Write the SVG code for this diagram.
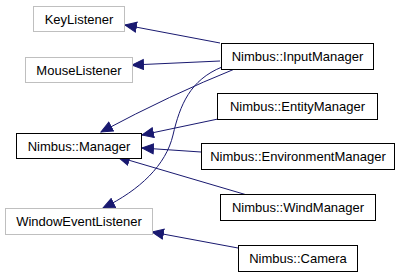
<svg xmlns="http://www.w3.org/2000/svg" width="400" height="277" viewBox="0 0 400 277">
  <style>
    .cls rect { fill: #ffffff; stroke: #000000; stroke-width: 1; }
    .ext rect { fill: #ffffff; stroke: #bfbfbf; stroke-width: 1; }
    text { font-family: "Liberation Sans", Arial, sans-serif; font-size: 13px; fill: #000000; text-anchor: middle; }
    .edges path { fill: none; stroke: #191970; stroke-width: 1; marker-end: url(#arrow); }
  </style>
  <defs>
    <marker id="arrow" markerUnits="userSpaceOnUse" markerWidth="13" markerHeight="12" refX="12" refY="6" orient="auto">
      <path d="M0.5,1 L12,6 L0.5,11 Z" fill="#191970" stroke="#191970" stroke-width="1"/>
    </marker>
  </defs>
  <rect width="400" height="277" fill="#ffffff"/>

  <!-- inheritance / usage connectors -->
  <g class="edges">
    <path d="M220,43 L125,25"/>
    <path d="M220,61 L132,65"/>
    <path d="M237,68 Q170,95 101,132"/>
    <path d="M222,67 C190,80 180,105 173,135 C166,165 140,190 103,208"/>
    <path d="M218,119 L142,135"/>
    <path d="M201,152 L142,148"/>
    <path d="M247,195 L118,157"/>
    <path d="M238,248 L152,232"/>
  </g>

  <g id="KeyListener" class="ext">
    <rect x="33.5" y="6.5" width="91" height="25"/>
    <text x="79" y="23.5">KeyListener</text>
  </g>
  <g id="MouseListener" class="ext">
    <rect x="25.5" y="57.5" width="107" height="25"/>
    <text x="79" y="74.5">MouseListener</text>
  </g>
  <g id="Manager" class="cls">
    <rect x="16.5" y="133.5" width="125" height="25"/>
    <text x="79" y="150.5">Nimbus::Manager</text>
  </g>
  <g id="WindowEventListener" class="ext">
    <rect x="5.5" y="208.5" width="147" height="26"/>
    <text x="79" y="226">WindowEventListener</text>
  </g>
  <g id="InputManager" class="cls">
    <rect x="221.5" y="43.5" width="152" height="26"/>
    <text x="297.5" y="61">Nimbus::InputManager</text>
  </g>
  <g id="EntityManager" class="cls">
    <rect x="217.5" y="93.5" width="160" height="26"/>
    <text x="297.5" y="111">Nimbus::EntityManager</text>
  </g>
  <g id="EnvironmentManager" class="cls">
    <rect x="201.5" y="143.5" width="193" height="26"/>
    <text x="298" y="161">Nimbus::EnvironmentManager</text>
  </g>
  <g id="WindManager" class="cls">
    <rect x="220.5" y="194.5" width="155" height="26"/>
    <text x="298" y="212">Nimbus::WindManager</text>
  </g>
  <g id="Camera" class="cls">
    <rect x="238.5" y="245.5" width="119" height="26"/>
    <text x="298" y="263">Nimbus::Camera</text>
  </g>
</svg>
